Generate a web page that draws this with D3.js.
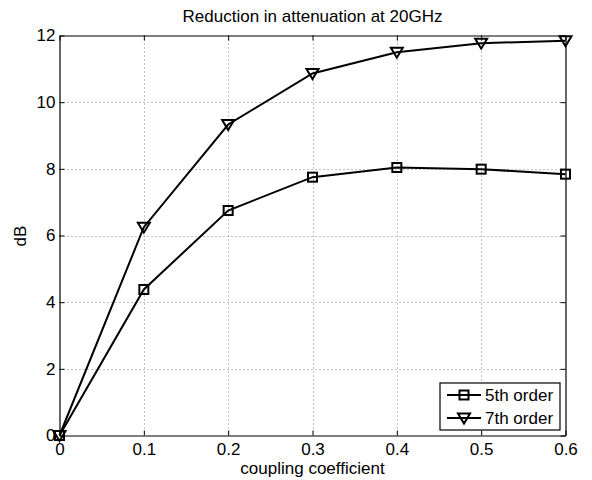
<!DOCTYPE html>
<html>
<head>
<meta charset="utf-8">
<script src="https://cdn.jsdelivr.net/npm/d3@7"></script>
<style>
  body { margin: 0; background: #fff; }
  svg text { font-family: "Liberation Sans", Arial, sans-serif; fill: #000; }
</style>
</head>
<body>
<svg width="592" height="480"></svg>
<script>
// chart values
var coupling = [0, 0.1, 0.2, 0.3, 0.4, 0.5, 0.6];
var fifthOrder = [0, 4.38, 6.75, 7.75, 8.04, 7.99, 7.84];
var seventhOrder = [0, 6.25, 9.33, 10.86, 11.5, 11.77, 11.84];
var xTicks = [0, 0.1, 0.2, 0.3, 0.4, 0.5, 0.6];
var yTicks = [0, 2, 4, 6, 8, 10, 12];
var seriesNames = ["5th order", "7th order"];

var plotLeft = 59.5, plotRight = 565.5, plotTop = 35.5, plotBottom = 435.5;

var svg = d3.select("svg");

var x = d3.scaleLinear().domain([0, 0.6]).range([plotLeft, plotRight]);
var y = d3.scaleLinear().domain([0, 12]).range([plotBottom, plotTop]);

// grid
var grid = svg.append("g");
grid.selectAll(".gx")
  .data(xTicks.slice(1, -1)).enter()
  .append("line")
  .attr("x1", function(d) { return Math.round(x(d)) + 0.5; })
  .attr("x2", function(d) { return Math.round(x(d)) + 0.5; })
  .attr("y1", plotTop).attr("y2", plotBottom)
  .attr("stroke", "#888").attr("stroke-width", 1)
  .attr("stroke-dasharray", "1,3");
grid.selectAll(".gy")
  .data(yTicks.slice(1, -1)).enter()
  .append("line")
  .attr("y1", function(d) { return Math.round(y(d)) + 0.5; })
  .attr("y2", function(d) { return Math.round(y(d)) + 0.5; })
  .attr("x1", plotLeft).attr("x2", plotRight)
  .attr("stroke", "#888").attr("stroke-width", 1)
  .attr("stroke-dasharray", "1,3");

// axes, ticks inside on all four sides
var bottomAxis = d3.axisBottom(x).tickValues(xTicks).tickSizeInner(-5).tickSizeOuter(0)
  .tickPadding(7).tickFormat(function(d) { return d === 0 ? "0" : d3.format(".1f")(d); });
var topAxis = d3.axisTop(x).tickValues(xTicks).tickSizeInner(-5).tickSizeOuter(0).tickFormat("");
var leftAxis = d3.axisLeft(y).tickValues(yTicks).tickSizeInner(-5).tickSizeOuter(0)
  .tickPadding(4).tickFormat(d3.format("d"));
var rightAxis = d3.axisRight(y).tickValues(yTicks).tickSizeInner(-5).tickSizeOuter(0).tickFormat("");

function styleAxis(g) {
  g.attr("font-size", null).attr("font-family", null);
  g.selectAll("path").attr("stroke", "#000").attr("stroke-width", 1.2);
  g.selectAll("line").attr("stroke", "#000").attr("stroke-width", 1);
  g.selectAll("text").style("font-size", "17px").attr("fill", "#000");
}

svg.append("g").attr("transform", "translate(0," + plotBottom + ")").call(bottomAxis).call(styleAxis);
svg.append("g").attr("transform", "translate(0," + plotTop + ")").call(topAxis).call(styleAxis);
svg.append("g").attr("transform", "translate(" + plotLeft + ",0)").call(leftAxis).call(styleAxis);
svg.append("g").attr("transform", "translate(" + plotRight + ",0)").call(rightAxis).call(styleAxis);

// series
var line = d3.line()
  .x(function(d, i) { return x(coupling[i]); })
  .y(function(d) { return y(d); });

var triPath = "M-6,-4.5L6,-4.5L0,5.5Z";

function drawSeries(values, marker) {
  svg.append("path")
    .datum(values)
    .attr("d", line)
    .attr("fill", "none")
    .attr("stroke", "#000")
    .attr("stroke-width", 2);
  var m = svg.append("g").selectAll(null).data(values).enter();
  if (marker === "square") {
    m.append("rect")
      .attr("x", function(d, i) { return x(coupling[i]) - 4.5; })
      .attr("y", function(d) { return y(d) - 4.5; })
      .attr("width", 9).attr("height", 9)
      .attr("fill", "none").attr("stroke", "#000").attr("stroke-width", 2);
  } else {
    m.append("path")
      .attr("d", triPath)
      .attr("transform", function(d, i) { return "translate(" + x(coupling[i]) + "," + y(d) + ")"; })
      .attr("fill", "none").attr("stroke", "#000").attr("stroke-width", 2);
  }
}

drawSeries(fifthOrder, "square");
drawSeries(seventhOrder, "triangle");

// title and labels
svg.append("text")
  .attr("x", (plotLeft + plotRight) / 2).attr("y", 22)
  .attr("text-anchor", "middle")
  .style("font-size", "17px")
  .text("Reduction in attenuation at 20GHz");

svg.append("text")
  .attr("x", (plotLeft + plotRight) / 2).attr("y", 474)
  .attr("text-anchor", "middle")
  .style("font-size", "17px")
  .text("coupling coefficient");

svg.append("text")
  .attr("transform", "translate(26,236) rotate(-90)")
  .attr("text-anchor", "middle")
  .style("font-size", "17px")
  .text("dB");

// legend
var legend = svg.append("g");
legend.append("rect")
  .attr("x", 440).attr("y", 383).attr("width", 120).attr("height", 47)
  .attr("fill", "#fff").attr("stroke", "#000").attr("stroke-width", 1.2);
var legendY = [395, 418];
seriesNames.forEach(function(name, i) {
  var ly = legendY[i];
  legend.append("line")
    .attr("x1", 447).attr("x2", 481).attr("y1", ly).attr("y2", ly)
    .attr("stroke", "#000").attr("stroke-width", 2);
  if (i === 0) {
    legend.append("rect")
      .attr("x", 464 - 4.5).attr("y", ly - 4.5).attr("width", 9).attr("height", 9)
      .attr("fill", "none").attr("stroke", "#000").attr("stroke-width", 2);
  } else {
    legend.append("path")
      .attr("d", triPath)
      .attr("transform", "translate(464," + ly + ")")
      .attr("fill", "none").attr("stroke", "#000").attr("stroke-width", 2);
  }
  legend.append("text")
    .attr("x", 485).attr("y", ly + 6)
    .style("font-size", "17px")
    .text(name);
});
</script>
</body>
</html>
